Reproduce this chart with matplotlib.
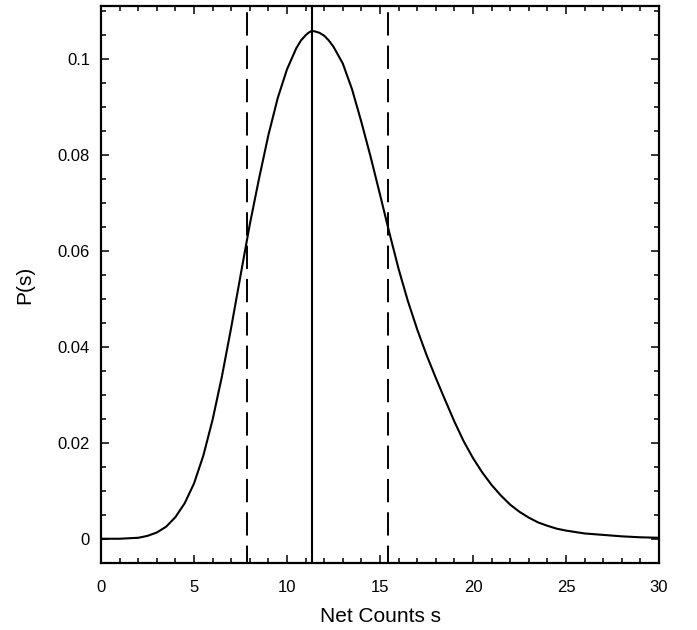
import numpy as np
import matplotlib
matplotlib.use('Agg')
import matplotlib.pyplot as plt
from matplotlib.ticker import MultipleLocator, FixedLocator

plt.rcParams['font.family'] = ['Liberation Sans', 'DejaVu Sans']
plt.rcParams['lines.scale_dashes'] = False

# curve
s = [0.0, 0.5, 1.0, 1.5, 2.0, 2.5, 3.0, 3.5, 4.0, 4.5, 5.0, 5.5, 6.0, 6.5, 7.0, 7.5,
     8.0, 8.5, 9.0, 9.5, 10.0, 10.5, 10.75, 11.0, 11.15, 11.33, 11.5, 11.75, 12.0,
     12.25, 12.5, 13.0, 13.5, 14.0, 14.5, 15.0, 15.5, 16.0, 16.5, 17.0, 17.5, 18.0,
     18.5, 19.0, 19.5, 20.0, 20.5, 21.0, 21.5, 22.0, 22.5, 23.0, 23.5, 24.0, 24.5,
     25.0, 25.5, 26.0, 27.0, 28.0, 29.0, 30.0]
ps = [0.0, 0.0, 0.0, 0.0001, 0.0002, 0.0006, 0.0013, 0.0025, 0.0045, 0.0074, 0.0115,
      0.0173, 0.0248, 0.0338, 0.0440, 0.0548, 0.0655, 0.0751, 0.0841, 0.0918, 0.0978,
      0.1022, 0.1038, 0.1049, 0.1054, 0.1058, 0.1057, 0.1054, 0.1048, 0.1038, 0.1025,
      0.0990, 0.0936, 0.0868, 0.0795, 0.0717, 0.0638, 0.0562, 0.0495, 0.0436, 0.0383,
      0.0335, 0.0289, 0.0244, 0.0203, 0.0168, 0.0138, 0.0112, 0.0090, 0.0071, 0.0056,
      0.0044, 0.0034, 0.0027, 0.0021, 0.0017, 0.0014, 0.0011, 0.0008, 0.0005, 0.0003,
      0.0002]

mode = 11.33
lower = 7.87
upper = 15.45

yticks = [0, 0.02, 0.04, 0.06, 0.08, 0.1]
ytick_labels = ['0', '0.02', '0.04', '0.06', '0.08', '0.1']
xticks = [0, 5, 10, 15, 20, 25, 30]

fig = plt.figure(figsize=(6.97, 6.30), dpi=100)
ax = fig.add_axes([0.1449, 0.1063, 0.8006, 0.8841])

ax.plot(s, ps, color='black', lw=1.5, solid_joinstyle='round')
ax.axvline(mode, color='black', lw=1.5)
for x in (lower, upper):
    ax.plot([x, x], [0.11098, -0.00506], color='black', lw=1.4,
            linestyle=(19.5, (16.8, 7.2)))

ax.set_xlim(0, 30)
ax.set_ylim(-0.00506, 0.11098)
ax.xaxis.set_major_locator(FixedLocator(xticks))
ax.xaxis.set_minor_locator(MultipleLocator(1))
ax.yaxis.set_major_locator(FixedLocator(yticks))
ax.set_yticklabels(ytick_labels)
ax.yaxis.set_minor_locator(MultipleLocator(0.005))

ax.tick_params(which='both', direction='in', top=True, right=True, width=1.1,
               labelsize=12)
ax.tick_params(which='major', length=6)
ax.tick_params(which='minor', length=3.6)
ax.tick_params(axis='x', which='major', pad=12)
ax.tick_params(axis='y', which='major', pad=8)
for sp in ax.spines.values():
    sp.set_linewidth(1.6)

ax.set_xlabel('Net Counts s', fontsize=15, labelpad=9)
ax.set_ylabel('P(s)', fontsize=15, labelpad=17)

fig.savefig('out.png', dpi=100)
